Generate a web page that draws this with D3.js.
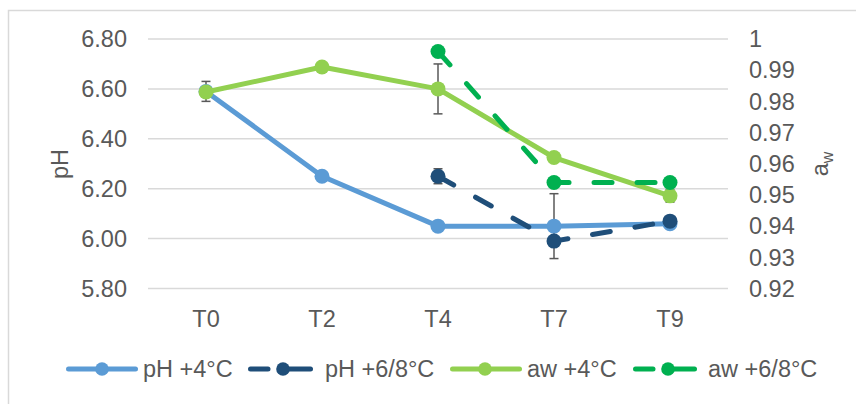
<!DOCTYPE html>
<html lang="en">
<head>
  <meta charset="UTF-8">
  <title>pH and aw</title>
  <script src="https://d3js.org/d3.v7.min.js"></script>
  <style>
    body { margin: 0; background: #fff; }
    text { font-family: "Liberation Sans", Arial, sans-serif; fill: #595959; }
  </style>
</head>
<body>
<svg width="856" height="404"></svg>
<script>
  // categories (sampling times)
  var times = ["T0", "T2", "T4", "T7", "T9"];

  // pH values
  var ph4 = [6.59, 6.25, 6.05, 6.05, 6.06];
  var ph68 = [null, null, 6.25, 5.99, 6.07];
  // aw values
  var aw4 = [0.983, 0.991, 0.984, 0.962, 0.9497];
  var aw68 = [null, null, 0.996, 0.954, 0.954];

  // error bars (+/-)
  var ph4Err = [0.04, 0, 0, 0.13, 0.02];
  var ph68Err = [null, null, 0.03, 0, 0];
  var aw4Err = [0, 0, 0.008, 0, 0.002];
  var aw68Err = [null, null, 0, 0, 0];

  // axis ticks
  var phTicks = [5.8, 6.0, 6.2, 6.4, 6.6, 6.8];
  var awTicks = [0.92, 0.93, 0.94, 0.95, 0.96, 0.97, 0.98, 0.99, 1];

  var series = [
    { name: "pH +4°C", values: ph4, err: ph4Err, axis: "ph", color: "#5B9BD5", dashed: false },
    { name: "pH +6/8°C", values: ph68, err: ph68Err, axis: "ph", color: "#1F4E79", dashed: true },
    { name: "aw +4°C", values: aw4, err: aw4Err, axis: "aw", color: "#92D050", dashed: false },
    { name: "aw +6/8°C", values: aw68, err: aw68Err, axis: "aw", color: "#00B050", dashed: true }
  ];

  var fontSize = "23.5px";
  var svg = d3.select("svg");

  // chart border (runs off the right and bottom of the picture)
  svg.append("rect")
    .attr("x", 8.5).attr("y", 10.5)
    .attr("width", 900).attr("height", 450)
    .attr("fill", "none")
    .attr("stroke", "#d9d9d9")
    .attr("stroke-width", 1.5);

  var x = d3.scalePoint().domain(times).range([148, 728]).padding(0.5);
  var yPh = d3.scaleLinear().domain([5.8, 6.8]).range([288.5, 39]);
  var yAw = d3.scaleLinear().domain([0.92, 1]).range([288.5, 39]);

  // gridlines
  svg.append("g").selectAll("line")
    .data(phTicks)
    .enter().append("line")
    .attr("x1", 148).attr("x2", 728)
    .attr("y1", function(d) { return yPh(d); })
    .attr("y2", function(d) { return yPh(d); })
    .attr("stroke", "#d9d9d9")
    .attr("stroke-width", 1.5);

  // left axis labels
  svg.append("g").selectAll("text")
    .data(phTicks)
    .enter().append("text")
    .attr("x", 127)
    .attr("y", function(d) { return yPh(d); })
    .attr("dy", "0.35em")
    .attr("text-anchor", "end")
    .style("font-size", fontSize)
    .text(function(d) { return d3.format(".2f")(d); });

  // right axis labels
  svg.append("g").selectAll("text")
    .data(awTicks)
    .enter().append("text")
    .attr("x", 749)
    .attr("y", function(d) { return yAw(d); })
    .attr("dy", "0.35em")
    .style("font-size", fontSize)
    .text(function(d) { return d === 1 ? "1" : d3.format(".2f")(d); });

  // category labels
  svg.append("g").selectAll("text")
    .data(times)
    .enter().append("text")
    .attr("x", function(d) { return x(d); })
    .attr("y", 327)
    .attr("text-anchor", "middle")
    .style("font-size", fontSize)
    .text(function(d) { return d; });

  // axis titles
  svg.append("text")
    .attr("transform", "translate(68,164) rotate(-90)")
    .attr("text-anchor", "middle")
    .style("font-size", fontSize)
    .text("pH");

  var awTitle = svg.append("text")
    .attr("transform", "translate(828,164) rotate(-90)")
    .attr("text-anchor", "middle")
    .style("font-size", fontSize);
  awTitle.append("tspan").text("a");
  awTitle.append("tspan").attr("dy", "0.3em").style("font-size", "16px").text("w");

  // draw series
  series.forEach(function(s) {
    var yScale = s.axis === "ph" ? yPh : yAw;
    var pts = times.map(function(t, i) {
      return { t: t, v: s.values[i], e: s.err[i] };
    }).filter(function(d) { return d.v != null; });

    var g = svg.append("g");

    // error bars
    var eb = g.selectAll(".err")
      .data(pts.filter(function(d) { return d.e; }))
      .enter().append("g")
      .attr("stroke", "#595959")
      .attr("stroke-width", 1.5);
    eb.append("line")
      .attr("x1", function(d) { return x(d.t); })
      .attr("x2", function(d) { return x(d.t); })
      .attr("y1", function(d) { return yScale(d.v + d.e); })
      .attr("y2", function(d) { return yScale(d.v - d.e); });
    [1, -1].forEach(function(sign) {
      eb.append("line")
        .attr("x1", function(d) { return x(d.t) - 4.5; })
        .attr("x2", function(d) { return x(d.t) + 4.5; })
        .attr("y1", function(d) { return yScale(d.v + sign * d.e); })
        .attr("y2", function(d) { return yScale(d.v + sign * d.e); });
    });

    var line = d3.line()
      .x(function(d) { return x(d.t); })
      .y(function(d) { return yScale(d.v); });

    g.append("path")
      .datum(pts)
      .attr("d", line)
      .attr("fill", "none")
      .attr("stroke", s.color)
      .attr("stroke-width", 5)
      .attr("stroke-linecap", "round")
      .attr("stroke-linejoin", "round")
      .attr("stroke-dasharray", s.dashed ? "18,25" : null);

    g.selectAll("circle")
      .data(pts)
      .enter().append("circle")
      .attr("cx", function(d) { return x(d.t); })
      .attr("cy", function(d) { return yScale(d.v); })
      .attr("r", 7.5)
      .attr("fill", s.color);
  });

  // legend: [line start, line end, marker x, text x]
  var legendPos = [[66, 138, 102, 143], [248, 313, 283, 325], [450, 522, 485, 527], [633, 697, 668, 708]];
  var legendY = 369;
  var legend = svg.append("g");
  series.forEach(function(s, i) {
    var p = legendPos[i];
    var item = legend.append("g");
    if (s.dashed) {
      item.append("line").attr("x1", p[0] + 2.5).attr("x2", p[0] + 20)
        .attr("y1", legendY).attr("y2", legendY);
      item.append("line").attr("x1", p[2]).attr("x2", p[1] - 2.5)
        .attr("y1", legendY).attr("y2", legendY);
    } else {
      item.append("line").attr("x1", p[0] + 2.5).attr("x2", p[1] - 2.5)
        .attr("y1", legendY).attr("y2", legendY);
    }
    item.selectAll("line")
      .attr("stroke", s.color)
      .attr("stroke-width", 5)
      .attr("stroke-linecap", "round");
    item.append("circle")
      .attr("cx", p[2]).attr("cy", legendY)
      .attr("r", 6.8)
      .attr("fill", s.color);
    item.append("text")
      .attr("x", p[3])
      .attr("y", legendY + 8)
      .style("font-size", fontSize)
      .text(s.name);
  });
</script>
</body>
</html>
